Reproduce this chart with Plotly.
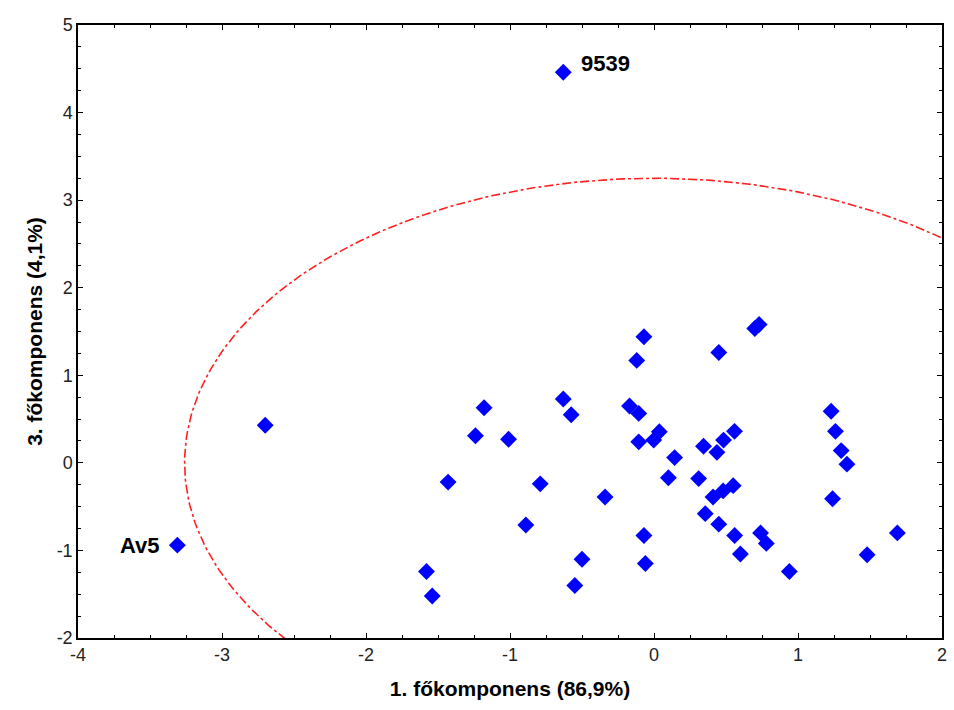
import plotly.graph_objects as go
import numpy as np

# Scores on PC1 (x) and PC3 (y)
pc1 = [-0.63, -3.31, -2.70, -1.58, -1.54, -1.43, -1.24, -1.18, -1.01, -0.89,
       -0.79, -0.63, -0.575, -0.55, -0.50, -0.34, -0.17, -0.106, -0.12, -0.07,
       -0.106, -0.002, 0.037, 0.143, 0.10, -0.07, -0.06, 0.31, 0.344, 0.437,
       0.483, 0.559, 0.41, 0.48, 0.55, 0.356, 0.45, 0.56, 0.60, 0.74,
       0.78, 0.94, 0.45, 0.70, 0.73, 1.23, 1.26, 1.30, 1.34, 1.24,
       1.48, 1.69]
pc3 = [4.46, -0.94, 0.43, -1.24, -1.52, -0.22, 0.31, 0.63, 0.27, -0.71,
       -0.24, 0.73, 0.55, -1.40, -1.10, -0.39, 0.65, 0.565, 1.17, 1.44,
       0.24, 0.26, 0.355, 0.06, -0.17, -0.83, -1.15, -0.18, 0.19, 0.12,
       0.26, 0.36, -0.39, -0.32, -0.26, -0.58, -0.70, -0.83, -1.04, -0.80,
       -0.92, -1.24, 1.26, 1.535, 1.58, 0.59, 0.36, 0.14, -0.015, -0.41,
       -1.05, -0.80]

# Labelled outliers
label_names = ["9539", "Av5"]
label_x = [-0.63, -3.31]
label_y = [4.46, -0.94]

# Confidence ellipse radii
ell_rx = 3.26
ell_ry = 3.25

x_ticks = [-4, -3, -2, -1, 0, 1, 2]
x_tick_text = ["-4", "-3", "-2", "-1", "0", "1", "2"]
y_ticks = [-2, -1, 0, 1, 2, 3, 4, 5]
y_tick_text = ["-2", "-1", "0", "1", "2", "3", "4", "5"]

t = np.linspace(0, 2 * np.pi, 400)
ex = ell_rx * np.cos(t)
ey = ell_ry * np.sin(t)

FONT = "Liberation Sans, Arial"

fig = go.Figure()
fig.add_trace(go.Scatter(x=ex, y=ey, mode="lines",
                         line=dict(color="#FF2020", width=1.6, dash="dashdot"),
                         hoverinfo="skip", showlegend=False))
fig.add_trace(go.Scatter(x=pc1, y=pc3, mode="markers",
                         marker=dict(symbol="diamond", size=13, color="#0000FF",
                                     line=dict(width=0)),
                         showlegend=False))

anchors = ["left", "right"]
shifts = [(16, 9), (-15, 0)]
for name, lx, ly, anc, (sx, sy) in zip(label_names, label_x, label_y, anchors, shifts):
    fig.add_annotation(x=lx, y=ly, text="<b>%s</b>" % name, showarrow=False,
                       xanchor=anc, yanchor="middle", xshift=sx, yshift=sy,
                       font=dict(family=FONT, size=22, color="black"))

axis_common = dict(showgrid=False, zeroline=False, showline=True, linecolor="black",
                   linewidth=1.5, mirror="allticks", ticks="inside", ticklen=5,
                   tickwidth=1, tickcolor="black",
                   minor=dict(dtick=0.25, ticks="inside", ticklen=3, tickwidth=1,
                              tickcolor="black"),
                   tickfont=dict(family=FONT, size=18, color="#222222"))

fig.update_layout(
    width=954, height=710,
    margin=dict(l=78, r=7, t=25, b=72),
    plot_bgcolor="white", paper_bgcolor="white",
    xaxis=dict(range=[-4, 2], tickvals=x_ticks, ticktext=x_tick_text, **axis_common,
               title=dict(text="<b>1. főkomponens (86,9%)</b>", standoff=17,
                          font=dict(family=FONT, size=21, color="black"))),
    yaxis=dict(range=[-2, 5], tickvals=y_ticks, ticktext=y_tick_text, **axis_common,
               title=dict(text="<b>3. főkomponens (4,1%)</b>", standoff=8,
                          font=dict(family=FONT, size=21, color="black"))),
)

fig.write_html("out.html", config={"displayModeBar": False},
               post_script="document.body.style.margin='0';document.body.style.overflow='hidden';")
